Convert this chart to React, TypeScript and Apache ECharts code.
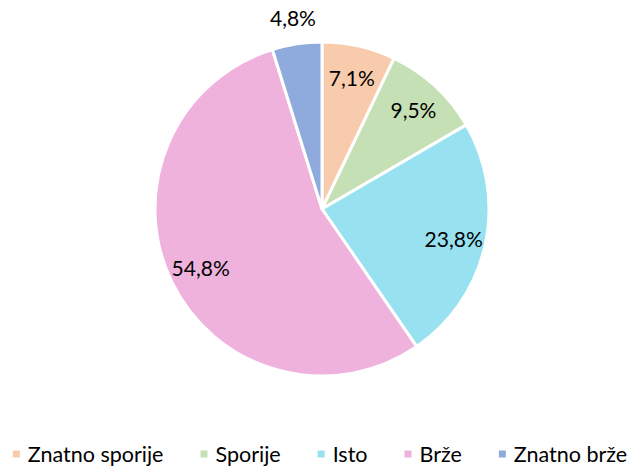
import React, { useEffect, useRef } from "react";
import * as echarts from "echarts";

const categories = ["Znatno sporije", "Sporije", "Isto", "Brže", "Znatno brže"];
const values = [7.1, 9.5, 23.8, 54.8, 4.8];
const colors = ["#F8CBAD", "#C5E0B4", "#97E1F1", "#EFB2DD", "#8FAADC"];

export default function App() {
  const ref = useRef<HTMLDivElement>(null);
  useEffect(() => {
    const chart = echarts.init(ref.current!, undefined, { renderer: "svg" });
    const font = "Lato, 'Open Sans', sans-serif";
    const fmt = (p: any) => String(p.value).replace(".", ",") + "%";
    const baseData = categories.map((name, i) => ({
      name,
      value: values[i],
      itemStyle: { color: colors[i] },
    }));
    const center = [322, 209];
    const R = 167;
    const labelStyle = {
      show: true,
      position: "inside",
      formatter: fmt,
      fontFamily: font,
      fontSize: 21,
      color: "#000",
    };
    chart.setOption({
      animation: false,
      legend: {
        bottom: -4,
        left: "center",
        data: categories,
        itemWidth: 9,
        itemHeight: 9,
        itemGap: 35,
        icon: "rect",
        textStyle: { fontFamily: font, fontSize: 21.5, color: "#000", padding: [0, 0, 0, 2] },
      },
      series: [
        {
          type: "pie",
          center,
          radius: R,
          startAngle: 90,
          clockwise: true,
          data: baseData,
          itemStyle: { borderColor: "#fff", borderWidth: 3 },
          label: { show: false },
          labelLine: { show: false },
          silent: true,
        },
        {
          type: "pie",
          center,
          radius: R * 1.58,
          startAngle: 90,
          clockwise: true,
          silent: true,
          legendHoverLink: false,
          data: categories.map((name, i) => ({
            name,
            value: values[i],
            itemStyle: { color: "transparent" },
            label: { show: i < 4 },
          })),
          label: labelStyle,
          labelLine: { show: false },
        },
        {
          type: "pie",
          center,
          radius: R * 2.28,
          startAngle: 90,
          clockwise: true,
          silent: true,
          legendHoverLink: false,
          data: categories.map((name, i) => ({
            name,
            value: values[i],
            itemStyle: { color: "transparent" },
            label: { show: i === 4 },
          })),
          label: labelStyle,
          labelLine: { show: false },
        },
      ],
    });
    return () => chart.dispose();
  }, []);
  return (
    <div
      ref={ref}
      style={{ position: "absolute", left: 0, top: 0, width: 638, height: 466, background: "#fff" }}
    />
  );
}
